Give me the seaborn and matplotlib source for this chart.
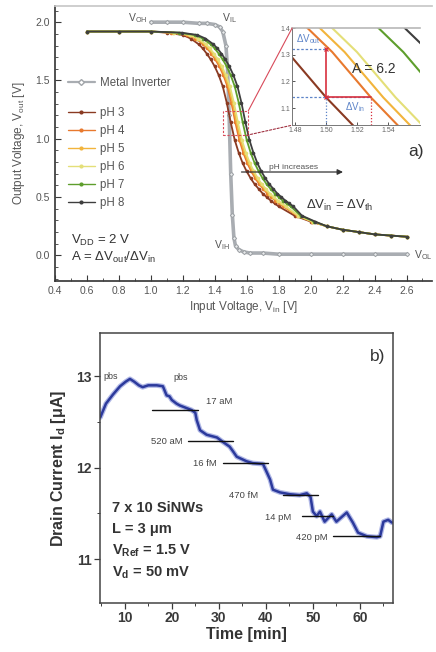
import matplotlib
matplotlib.use("Agg")
import numpy as np
import pandas as pd
import matplotlib.pyplot as plt
import seaborn as sns
from matplotlib.lines import Line2D
from matplotlib.patches import Rectangle, ConnectionPatch
from matplotlib.ticker import MultipleLocator, FixedLocator

# ---------------- data: inverter transfer curves ----------------
ph_labels = ["pH 3", "pH 4", "pH 5", "pH 6", "pH 7", "pH 8"]
ph_colors = ["#8a3a22", "#e8792e", "#f2b43c", "#e4df78", "#5e9e2c", "#3e3e3e"]

vout_ph = [1.92, 1.92, 1.92, 1.91, 1.89, 1.86, 1.81, 1.775, 1.73, 1.68, 1.62, 1.545,
           1.45, 1.31, 1.14, 0.99, 0.88, 0.79, 0.72, 0.66, 0.61, 0.57, 0.53, 0.50,
           0.47, 0.445, 0.42, 0.34, 0.29, 0.25, 0.22, 0.20, 0.18, 0.17, 0.16]

vin_ph3 = [0.60, 0.80, 1.00, 1.100, 1.200, 1.250, 1.300, 1.325, 1.350, 1.375, 1.400, 1.425,
           1.450, 1.475, 1.500, 1.525, 1.550, 1.575, 1.600, 1.625, 1.650, 1.675, 1.700, 1.725,
           1.750, 1.775, 1.800, 1.900, 2.000, 2.10, 2.20, 2.30, 2.40, 2.50, 2.60]
vin_ph4 = [0.60, 0.80, 1.00, 1.129, 1.229, 1.279, 1.329, 1.354, 1.379, 1.404, 1.429, 1.454,
           1.479, 1.504, 1.529, 1.554, 1.579, 1.604, 1.629, 1.654, 1.679, 1.704, 1.729, 1.754,
           1.779, 1.804, 1.829, 1.915, 2.009, 2.10, 2.20, 2.30, 2.40, 2.50, 2.60]
vin_ph5 = [0.60, 0.80, 1.00, 1.137, 1.237, 1.287, 1.337, 1.362, 1.387, 1.412, 1.437, 1.462,
           1.487, 1.512, 1.537, 1.562, 1.587, 1.612, 1.637, 1.662, 1.687, 1.712, 1.737, 1.762,
           1.787, 1.812, 1.837, 1.919, 2.011, 2.10, 2.20, 2.30, 2.40, 2.50, 2.60]
vin_ph6 = [0.60, 0.80, 1.00, 1.145, 1.245, 1.295, 1.345, 1.370, 1.395, 1.420, 1.445, 1.470,
           1.495, 1.520, 1.545, 1.570, 1.595, 1.620, 1.645, 1.670, 1.695, 1.720, 1.745, 1.770,
           1.795, 1.820, 1.845, 1.923, 2.014, 2.10, 2.20, 2.30, 2.40, 2.50, 2.60]
vin_ph7 = [0.60, 0.80, 1.00, 1.175, 1.275, 1.325, 1.375, 1.400, 1.425, 1.450, 1.475, 1.500,
           1.525, 1.550, 1.575, 1.600, 1.625, 1.650, 1.675, 1.700, 1.725, 1.750, 1.775, 1.800,
           1.825, 1.850, 1.875, 1.938, 2.022, 2.10, 2.20, 2.30, 2.40, 2.50, 2.60]
vin_ph8 = [0.60, 0.80, 1.00, 1.192, 1.292, 1.342, 1.392, 1.417, 1.442, 1.467, 1.492, 1.517,
           1.542, 1.567, 1.592, 1.617, 1.642, 1.667, 1.692, 1.717, 1.742, 1.767, 1.792, 1.817,
           1.842, 1.867, 1.892, 1.946, 2.028, 2.10, 2.20, 2.30, 2.40, 2.50, 2.60]
vin_ph = [vin_ph3, vin_ph4, vin_ph5, vin_ph6, vin_ph7, vin_ph8]

vin_metal = [1.00, 1.10, 1.20, 1.30, 1.35, 1.40, 1.43, 1.45, 1.47, 1.48, 1.49, 1.50,
             1.51, 1.52, 1.53, 1.55, 1.58, 1.62, 1.70, 1.80, 2.00, 2.20, 2.40, 2.60]
vout_metal = [2.00, 2.00, 2.00, 1.99, 1.99, 1.98, 1.96, 1.92, 1.80, 1.60, 1.20, 0.70,
              0.35, 0.15, 0.08, 0.05, 0.03, 0.02, 0.02, 0.01, 0.01, 0.01, 0.01, 0.01]

# gain construction in the zoomed view
gain_vin, gain_vout = 1.50, 1.14
gain_dvin = 0.029
gain_value = 6.2

# ---------------- data: sensor time trace ----------------
time_min = [4.8, 6.0, 7.5, 9.0, 10.2, 11.1, 12.0, 13.0, 13.8, 15.0, 16.8, 18.1, 18.9, 19.5,
            20.0, 21.0, 21.7, 23.2, 24.2, 25.0, 25.3, 26.0, 27.4, 29.6, 30.9, 32.3, 33.0,
            33.8, 35.9, 37.2, 39.4, 40.2, 40.9, 41.5, 43.0, 45.1, 47.2, 48.7, 49.5, 50.0,
            50.8, 51.5, 52.5, 54.0, 55.0, 57.2, 58.5, 59.6, 61.5, 63.6, 64.3, 65.0, 66.0, 66.8]
drain_ua = [12.55, 12.70, 12.80, 12.89, 12.94, 12.97, 12.94, 12.90, 12.88, 12.90, 12.90,
            12.89, 12.79, 12.78, 12.74, 12.70, 12.68, 12.65, 12.63, 12.60, 12.52, 12.41,
            12.36, 12.33, 12.28, 12.23, 12.18, 12.12, 12.07, 12.05, 12.04, 11.95, 11.87,
            11.76, 11.73, 11.71, 11.70, 11.72, 11.68, 11.52, 11.47, 11.52, 11.41, 11.49,
            11.41, 11.51, 11.40, 11.29, 11.25, 11.24, 11.25, 11.41, 11.43, 11.40]

conc_labels = ["17 aM", "520 aM", "16 fM", "470 fM", "14 pM", "420 pM"]
conc_level = [12.63, 12.29, 12.05, 11.70, 11.47, 11.25]
conc_start = [15.7, 23.4, 30.9, 43.6, 47.7, 54.3]
conc_end = [25.5, 33.0, 40.4, 51.0, 54.3, 64.3]

# ---------------- style ----------------
sns.set_theme(style="ticks")
plt.rcParams["font.family"] = ["Liberation Sans", "DejaVu Sans"]
plt.rcParams.update({
    "mathtext.fontset": "custom",
    "mathtext.rm": "Liberation Sans",
    "mathtext.it": "Liberation Sans:italic",
    "mathtext.bf": "Liberation Sans:bold",
    "mathtext.default": "regular",
    "axes.edgecolor": "#3a3a3a",
    "xtick.color": "#3a3a3a",
    "ytick.color": "#3a3a3a",
    "text.color": "#333333",
})
txt = "#333333"

fig = plt.figure(figsize=(4.36, 6.52), dpi=100)
ax = fig.add_axes([0.126, 0.569, 0.865, 0.422])
axb = fig.add_axes([0.229, 0.075, 0.672, 0.414])

# ---------------- panel a ----------------
frames = []
for lab, xs in zip(ph_labels, vin_ph):
    frames.append(pd.DataFrame({"vin": xs, "vout": vout_ph, "pH": lab}))
df_ph = pd.concat(frames, ignore_index=True)
palette = dict(zip(ph_labels, ph_colors))

sns.lineplot(x=vin_metal, y=vout_metal, ax=ax, color="#a9adb2", lw=2.6, marker="D",
             markersize=2.2, markerfacecolor="#e8eaec", markeredgecolor="#a0a4a8",
             sort=False, estimator=None, zorder=2)
sns.lineplot(data=df_ph, x="vin", y="vout", hue="pH", palette=palette, ax=ax,
             sort=False, estimator=None, lw=1.3, marker="o", markersize=2.6,
             markeredgewidth=0, legend=False, zorder=3)

ax.set_xlim(0.4, 2.76)
ax.set_ylim(-0.22, 2.14)
ax.xaxis.set_major_locator(FixedLocator(np.round(np.arange(0.4, 2.61, 0.2), 1)))
ax.xaxis.set_minor_locator(MultipleLocator(0.1))
ax.yaxis.set_major_locator(FixedLocator([0.0, 0.5, 1.0, 1.5, 2.0]))
ax.yaxis.set_minor_locator(MultipleLocator(0.1))
ax.tick_params(which="both", direction="in", labelsize=7.5, labelcolor="#555555")
ax.tick_params(which="major", length=4, width=0.8)
ax.tick_params(which="minor", length=2, width=0.6)
ax.xaxis.set_major_formatter(matplotlib.ticker.FormatStrFormatter("%.1f"))
ax.yaxis.set_major_formatter(matplotlib.ticker.FormatStrFormatter("%.1f"))
ax.spines["right"].set_visible(False)
ax.spines["top"].set_color("#c8c8c8")
ax.set_xlabel("Input Voltage, V$_{in}$ [V]", fontsize=8.5, color="#555555", labelpad=2)
ax.set_ylabel("Output Voltage, V$_{out}$ [V]", fontsize=8.5, color="#555555", labelpad=6)

h_metal = [Line2D([], [], color="#a9adb2", lw=1.6, marker="D", markersize=3,
                  markerfacecolor="white", markeredgecolor="#a0a4a8")]
leg1 = ax.legend(h_metal, ["Metal Inverter"], loc="upper left", bbox_to_anchor=(0.035, 0.74),
                 frameon=False, fontsize=8.3, handlelength=2.3, handletextpad=0.5,
                 borderpad=0, borderaxespad=0, labelcolor="#555555")
ax.add_artist(leg1)
h_ph = [Line2D([], [], color=c, lw=1.0, marker="o", markersize=3, markeredgewidth=0)
        for c in ph_colors]
ax.legend(h_ph, ph_labels, loc="upper left", bbox_to_anchor=(0.035, 0.633), frameon=False,
          fontsize=8.3, handlelength=2.3, handletextpad=0.5, labelspacing=0.52,
          borderpad=0, borderaxespad=0, labelcolor="#555555")

ax.text(0.86, 2.035, "V$_{OH}$", fontsize=7.5, color="#555555", va="center")
ax.text(1.445, 2.035, "V$_{IL}$", fontsize=7.5, color="#555555", va="center")
ax.text(1.495, 0.09, "V$_{IH}$", fontsize=7.5, color="#555555", va="center", ha="right")
ax.text(2.645, 0.0, "V$_{OL}$", fontsize=7.5, color="#555555", va="center")
ax.text(0.5, 0.13, "V$_{DD}$ = 2 V", fontsize=9.5, color=txt, va="center")
ax.text(0.5, -0.02, "A = ΔV$_{out}$/ΔV$_{in}$", fontsize=9.5, color=txt, va="center")
ax.text(2.18, 0.43, "ΔV$_{in}$ = ΔV$_{th}$", fontsize=9.5, color=txt, va="center", ha="center")
ax.text(2.66, 0.89, "a)", fontsize=12.5, color=txt, va="center", ha="center")
ax.annotate("", xy=(2.22, 0.715), xytext=(1.55, 0.715),
            arrowprops=dict(arrowstyle="-|>", color="#333333", lw=0.9, mutation_scale=8))
ax.text(1.89, 0.755, "pH increases", fontsize=6, color="#555555", ha="center", va="center")

ax.add_patch(Rectangle((1.45, 1.03), 0.16, 0.21, fill=False, ec="#d84a5a", lw=0.8,
                       ls=(0, (2, 1.5)), zorder=5))

# zoomed view of the transition
axi = fig.add_axes([0.670, 0.808, 0.294, 0.149])
axi.patch.set_alpha(0)
sns.lineplot(data=df_ph, x="vin", y="vout", hue="pH", palette=palette, ax=axi,
             sort=False, estimator=None, lw=1.5, legend=False, zorder=2)
axi.set_xlim(1.478, 1.561)
axi.set_ylim(1.036, 1.40)
axi.xaxis.set_major_locator(FixedLocator([1.48, 1.50, 1.52, 1.54]))
axi.yaxis.set_major_locator(FixedLocator([1.1, 1.2, 1.3, 1.4]))
axi.xaxis.set_major_formatter(matplotlib.ticker.FormatStrFormatter("%.2f"))
axi.yaxis.set_major_formatter(matplotlib.ticker.FormatStrFormatter("%.1f"))
axi.tick_params(direction="in", labelsize=5, labelcolor="#666666", length=2, width=0.6, pad=1.5)
axi.set_xlabel("")
axi.set_ylabel("")
axi.spines["right"].set_visible(False)
axi.spines["top"].set_color("#b8b8b8")
axi.spines["top"].set_linewidth(1.2)
for s in ("left", "bottom"):
    axi.spines[s].set_color("#777777")
    axi.spines[s].set_linewidth(0.7)

top_v = gain_vout + gain_value * gain_dvin
right_v = gain_vin + gain_dvin
blue = "#5d84c8"
red = "#d8303e"
axi.plot([1.478, gain_vin], [top_v, top_v], color=blue, lw=0.9, ls=(0, (2, 1.5)))
axi.plot([1.478, right_v], [gain_vout, gain_vout], color=blue, lw=0.9, ls=(0, (2, 1.5)))
axi.plot([gain_vin, gain_vin], [1.036, gain_vout], color=blue, lw=0.9, ls=(0, (1, 1.5)))
axi.plot([right_v, right_v], [1.036, gain_vout], color=red, lw=0.9, ls=(0, (1, 1.5)))
axi.plot([gain_vin, gain_vin], [gain_vout, top_v], color=red, lw=1.2)
axi.plot([gain_vin, right_v], [gain_vout, gain_vout], color=red, lw=1.2)
axi.plot([gain_vin, gain_vin], [gain_vout, top_v], ls="none", marker="x", color=red,
         markersize=3.5, mew=0.9)
axi.text(1.4805, top_v + 0.012, "ΔV$_{out}$", fontsize=7, color=blue, va="bottom")
axi.text(1.512, gain_vout - 0.012, "ΔV$_{in}$", fontsize=7, color=blue, va="top")
axi.text(1.517, 1.245, f"A = {gain_value}", fontsize=10, color=txt, va="center")

con1 = ConnectionPatch(xyA=(1.61, 1.24), coordsA=ax.transData, xyB=(0.0, 1.0),
                       coordsB=axi.transAxes, color="#d84a5a", lw=0.8)
con2 = ConnectionPatch(xyA=(1.60, 1.03), coordsA=ax.transData, xyB=(0.0, 0.0),
                       coordsB=axi.transAxes, color="#a03040", lw=0.8, ls=(0, (2, 1.5)))
fig.add_artist(con1)
fig.add_artist(con2)

# ---------------- panel b ----------------
sns.lineplot(x=time_min, y=drain_ua, ax=axb, color="#7d8ad6", lw=3.6, alpha=0.6,
             sort=False, estimator=None)
sns.lineplot(x=time_min, y=drain_ua, ax=axb, color="#2c3a9c", lw=1.8,
             sort=False, estimator=None)
for lab, lv, x0, x1 in zip(conc_labels, conc_level, conc_start, conc_end):
    axb.plot([x0, x1], [lv, lv], color="#111111", lw=1.0)

axb.text(27.2, 12.72, conc_labels[0], fontsize=6.8, color="#444444", va="center", ha="left")
axb.text(22.4, 12.29, conc_labels[1], fontsize=6.8, color="#444444", va="center", ha="right")
axb.text(29.6, 12.05, conc_labels[2], fontsize=6.8, color="#444444", va="center", ha="right")
axb.text(38.3, 11.70, conc_labels[3], fontsize=6.8, color="#444444", va="center", ha="right")
axb.text(45.4, 11.46, conc_labels[4], fontsize=6.8, color="#444444", va="center", ha="right")
axb.text(53.2, 11.24, conc_labels[5], fontsize=6.8, color="#444444", va="center", ha="right")
axb.text(5.5, 13.0, "pbs", fontsize=6.5, color="#444444", va="center", ha="left")
axb.text(20.3, 12.99, "pbs", fontsize=6.5, color="#444444", va="center", ha="left")

axb.set_xlim(4.7, 67.0)
axb.set_ylim(10.52, 13.47)
axb.xaxis.set_major_locator(MultipleLocator(10))
axb.xaxis.set_minor_locator(MultipleLocator(5))
axb.yaxis.set_major_locator(FixedLocator([11, 12, 13]))
axb.yaxis.set_minor_locator(MultipleLocator(0.5))
axb.tick_params(which="both", direction="out", labelsize=10, pad=2)
axb.tick_params(which="major", length=4, width=0.9)
axb.tick_params(which="minor", length=2.5, width=0.7)
for t in axb.get_xticklabels() + axb.get_yticklabels():
    t.set_fontweight("bold")
for s in axb.spines.values():
    s.set_linewidth(1.1)
    s.set_color("#444444")
axb.set_xlabel("Time [min]", fontsize=11.5, fontweight="bold", color=txt, labelpad=1)
axb.set_ylabel("Drain Current I$_{\\mathbf{d}}$ [μA]", fontsize=11.5, fontweight="bold",
               color=txt, labelpad=6)

axb.text(63.8, 13.21, "b)", fontsize=12.5, color=txt, va="center", ha="center")
info = ["7 x 10 SiNWs", "L = 3 μm", "V$_{\\mathbf{Ref}}$ = 1.5 V", "V$_{\\mathbf{d}}$ = 50 mV"]
for k, line in enumerate(info):
    axb.text(7.3, 11.56 - k * 0.235, line, fontsize=10.5, fontweight="bold", color=txt,
             va="center", ha="left")

fig.savefig("out.png", dpi=100)
